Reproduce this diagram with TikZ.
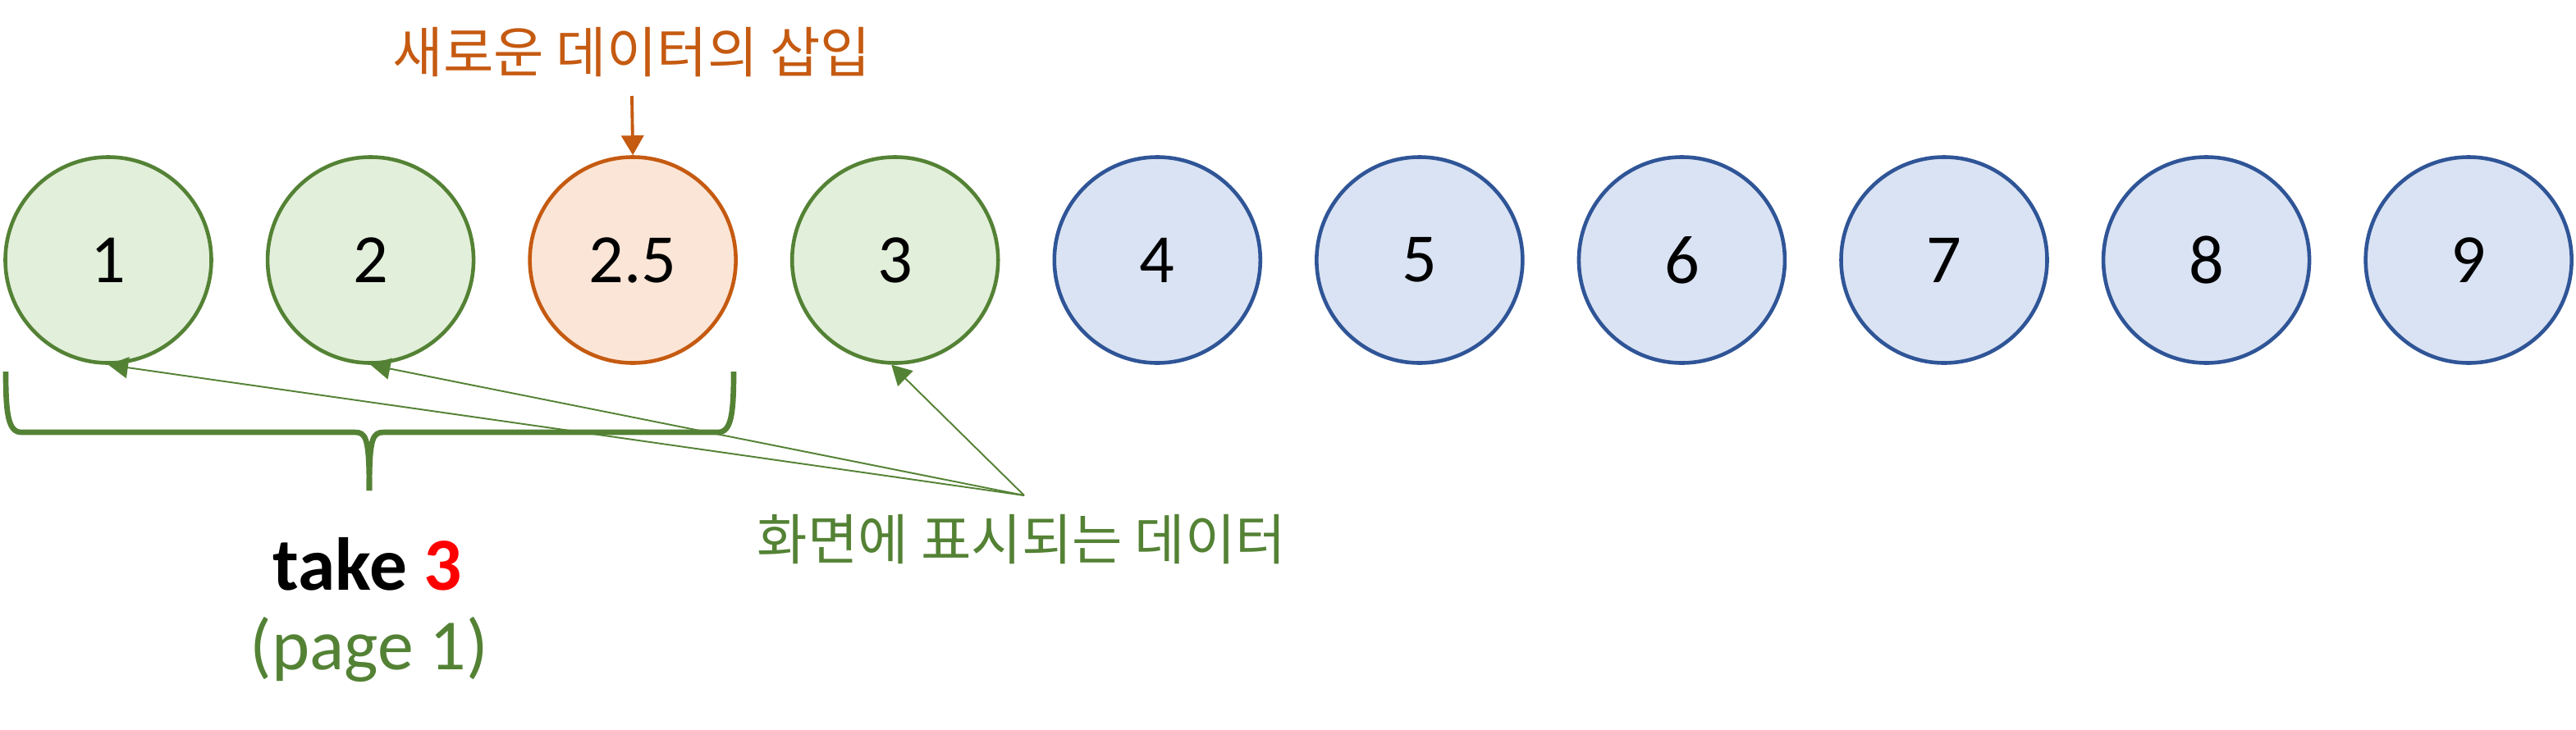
\documentclass[tikz,border=0pt]{standalone}
\usepackage{fontspec}
\setmainfont{Carlito}
\newfontfamily\krfont{Noto Sans CJK KR}
\usepackage{tikz}
\usetikzlibrary{positioning,arrows.meta,calc}

\definecolor{grnline}{HTML}{548235}
\definecolor{grnfill}{HTML}{E2EFDA}
\definecolor{orgline}{HTML}{C55A11}
\definecolor{orgfill}{HTML}{FBE5D6}
\definecolor{bluline}{HTML}{2F5597}
\definecolor{blufill}{HTML}{DAE3F3}

\begin{document}
\begin{tikzpicture}[
    node distance=0.64cm,
    item/.style={circle, line width=1.3pt, minimum size=2.51cm, inner sep=0pt, font=\fontsize{24}{28}\selectfont},
    shown/.style={item, draw=grnline, fill=grnfill},
    added/.style={item, draw=orgline, fill=orgfill},
    rest/.style={item, draw=bluline, fill=blufill},
    krlabel/.style={inner sep=0pt, font=\krfont\fontsize{19}{23}\selectfont},
    pointer/.style={-{Triangle[length=0.24cm, width=0.26cm]}, grnline, line width=0.55pt},
    insertarrow/.style={-{Triangle[length=0.24cm, width=0.27cm]}, orgline, line width=1.1pt}
]
\useasboundingbox (0,0) rectangle (31.39,-8.89);

\node[shown] (n1) at (1.32,-3.17) {1};
\node[shown, right=of n1] (n2) {2};
\node[added, right=of n2] (n25) {2.5};
\node[shown, right=of n25] (n3) {3};
\node[rest, right=of n3] (n4) {4};
\node[rest, right=of n4] (n5) {5};
\node[rest, right=of n5] (n6) {6};
\node[rest, right=of n6] (n7) {7};
\node[rest, right=of n7] (n8) {8};
\node[rest, right=of n8] (n9) {9};

% inserted item
\node[krlabel, orgline] (insert) at (7.70,-0.64) {새로운 데이터의 삽입};
\draw[insertarrow] (7.70,-1.17) -- (n25.north);

% items on screen
\node[krlabel, grnline] (screen) at (12.45,-6.58) {화면에 표시되는 데이터};
\coordinate (src) at (12.48,-6.04);
\draw[pointer] (src) -- (n1.south);
\draw[pointer] (src) -- (n2.south);
\draw[pointer] (src) -- (n3.-92);

% brace under the first three
\draw[grnline, line width=1.9pt]
    (0.07,-4.53) .. controls (0.07,-5.05) and (0.10,-5.27) .. (0.26,-5.27) -- (4.32,-5.27)
    .. controls (4.46,-5.27) and (4.50,-5.33) .. (4.50,-5.98);
\draw[grnline, line width=1.9pt]
    (8.94,-4.53) .. controls (8.94,-5.05) and (8.91,-5.27) .. (8.75,-5.27) -- (4.68,-5.27)
    .. controls (4.54,-5.27) and (4.50,-5.33) .. (4.50,-5.98);

\node[anchor=base, inner sep=0pt, font=\bfseries\fontsize{26}{30}\selectfont] (take) at (4.48,-7.19) {take \textcolor{red}{3}};
\node[anchor=base, inner sep=0pt, grnline, font=\fontsize{25}{30}\selectfont] (page) at (4.50,-8.16) {(page 1)};
\end{tikzpicture}
\end{document}
